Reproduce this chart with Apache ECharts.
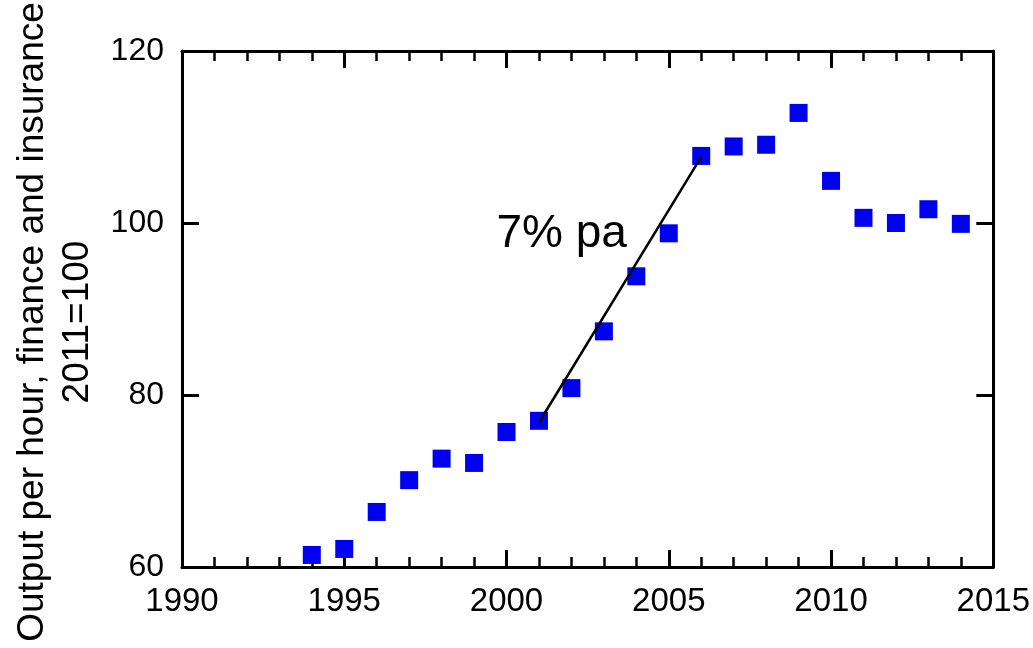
<!DOCTYPE html>
<html>
<head>
<meta charset="utf-8">
<script src="https://cdn.jsdelivr.net/npm/echarts@6/dist/echarts.min.js"></script>
<style>
html,body{margin:0;padding:0;background:#fff;}
#chart{width:1033px;height:648px;}
</style>
</head>
<body>
<div id="chart"></div>
<script>
var years = [1994,1995,1996,1997,1998,1999,2000,2001,2002,2003,2004,2005,2006,2007,2008,2009,2010,2011,2012,2013,2014];
var values = [61.4,62.1,66.4,70.1,72.6,72.1,75.7,77.0,80.8,87.4,93.8,98.8,107.8,108.9,109.1,112.8,104.9,100.6,100.0,101.6,99.9];
var trendYears = [2001,2006];
var trendValues = [76.8,107.7];
var trendLabel = '7% pa';
var trendLabelAt = [2001.7, 98.7];
var xTicks = [1990,1995,2000,2005,2010,2015];
var yTicks = [60,80,100,120];
var yTitle = 'Output per hour, finance and insurance\n2011=100';

var FONT = '"Liberation Sans", Arial, Helvetica, sans-serif';
var chart = echarts.init(document.getElementById('chart'), null, {renderer:'canvas'});

function xAxis(pos, showLabel){
  return {
    type:'value', position:pos, min:xTicks[0], max:xTicks[xTicks.length-1], interval:5,
    axisLine:{show:true, onZero:false, lineStyle:{color:'#000', width:3}},
    axisTick:{show:true, inside:true, length:17, lineStyle:{color:'#000', width:3}},
    minorTick:{show:true, splitNumber:5, length:10, lineStyle:{color:'#000', width:2.5}},
    splitLine:{show:false},
    axisLabel:{show:showLabel, color:'#000', fontSize:33, fontFamily:FONT, margin:18,
      formatter:function(v){return String(v);}}
  };
}
function yAxis(pos, showLabel){
  return {
    type:'value', position:pos, min:yTicks[0], max:yTicks[yTicks.length-1], interval:20,
    axisLine:{show:true, onZero:false, lineStyle:{color:'#000', width:3}},
    axisTick:{show:true, inside:true, length:17, lineStyle:{color:'#000', width:3}},
    splitLine:{show:false},
    axisLabel:{show:showLabel, color:'#000', fontSize:32, fontFamily:FONT, margin:18,
      formatter:function(v){return String(v);}}
  };
}

chart.setOption({
  animation:false,
  grid:{left:182, right:38, top:51, bottom:81},
  xAxis:[xAxis('bottom', true), xAxis('top', false)],
  yAxis:[yAxis('left', true), yAxis('right', false)],
  graphic:[{
    type:'text', x:55, y:322, rotation:Math.PI/2,
    style:{text:yTitle, x:0, y:0, align:'center', verticalAlign:'middle',
      font:'37px ' + FONT, lineHeight:45, fill:'#000'}
  }],
  series:[
    {
      type:'line', xAxisIndex:0, yAxisIndex:0,
      data: trendYears.map(function(y,i){return [y, trendValues[i]];}),
      symbol:'none', lineStyle:{color:'#000', width:2.5}, z:3
    },
    {
      type:'scatter', xAxisIndex:0, yAxisIndex:0,
      data: years.map(function(y,i){return [y, values[i]];}),
      symbol:'rect', symbolSize:18, itemStyle:{color:'#0000F0', opacity:1}, z:2
    },
    {
      type:'scatter', xAxisIndex:0, yAxisIndex:0,
      data:[trendLabelAt], symbolSize:0, silent:true, itemStyle:{opacity:1},
      label:{show:true, position:'inside', formatter:trendLabel, color:'#000',
        fontSize:46, fontFamily:FONT}
    }
  ]
});
</script>
</body>
</html>
